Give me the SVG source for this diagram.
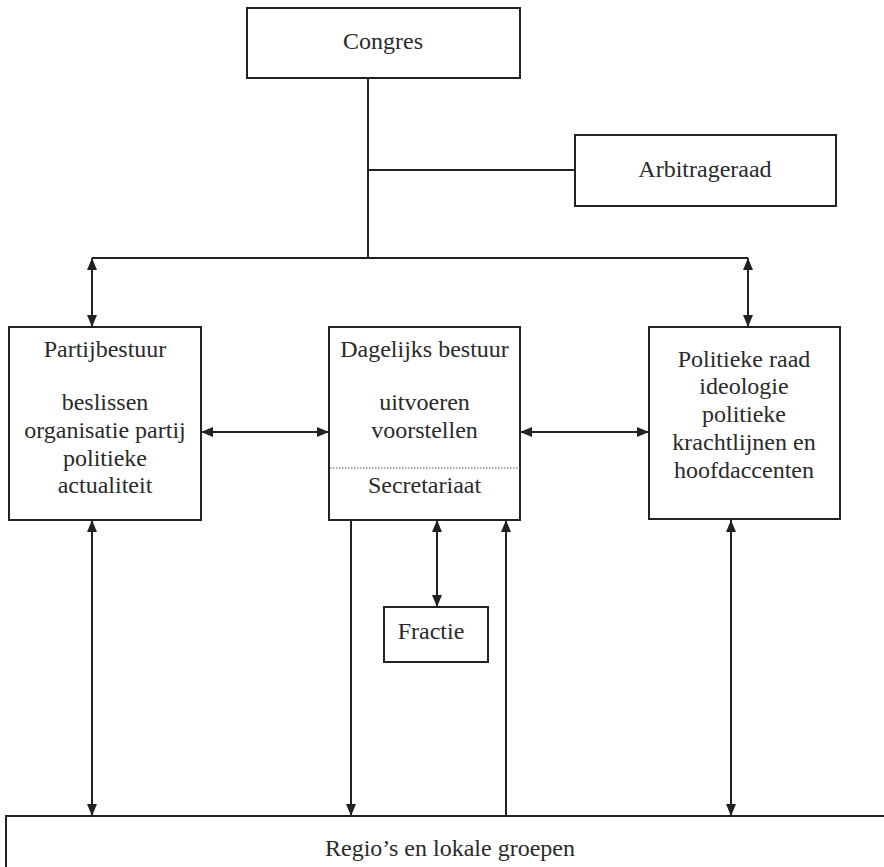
<svg xmlns="http://www.w3.org/2000/svg" width="884" height="867" viewBox="0 0 884 867" font-family="'Liberation Serif', 'DejaVu Serif', serif">
<style>
.box{fill:#fff;stroke:#222;stroke-width:2}
.ln{fill:none;stroke:#222;stroke-width:2}
text{font-size:24px;fill:#2a2a2a;text-anchor:middle}
.dot{stroke:#555;stroke-width:1;stroke-dasharray:1.5 1.5}
</style>
<defs>
<marker id="arr" viewBox="0 0 12 10" refX="12" refY="5" markerWidth="12" markerHeight="10" orient="auto-start-reverse" markerUnits="userSpaceOnUse">
<path d="M0,0 L12,5 L0,10 z" fill="#222"/>
</marker>
</defs>
<rect width="884" height="867" fill="#fff"/>
<g id="connectors">
<path class="ln" d="M368,78 V258"/>
<path class="ln" d="M368,170 H575"/>
<path class="ln" d="M92,258 H748"/>
<path class="ln" d="M92,258 V327" marker-start="url(#arr)" marker-end="url(#arr)"/>
<path class="ln" d="M748,258 V327" marker-start="url(#arr)" marker-end="url(#arr)"/>
<path class="ln" d="M201,432 H329" marker-start="url(#arr)" marker-end="url(#arr)"/>
<path class="ln" d="M520,432 H649" marker-start="url(#arr)" marker-end="url(#arr)"/>
<path class="ln" d="M92,520 V816" marker-start="url(#arr)" marker-end="url(#arr)"/>
<path class="ln" d="M351,520 V816" marker-end="url(#arr)"/>
<path class="ln" d="M437,520 V607" marker-start="url(#arr)" marker-end="url(#arr)"/>
<path class="ln" d="M506,816 V520" marker-end="url(#arr)"/>
<path class="ln" d="M731,520 V816" marker-start="url(#arr)" marker-end="url(#arr)"/>
</g>
<g id="congres">
<rect class="box" x="247" y="8" width="273" height="70"/>
<text x="383" y="49">Congres</text>
</g>
<g id="arbitrageraad">
<rect class="box" x="575" y="135" width="261" height="71"/>
<text x="705" y="177">Arbitrageraad</text>
</g>
<g id="partijbestuur">
<rect class="box" x="9" y="327" width="192" height="193"/>
<text x="105" y="357">Partijbestuur</text>
<text x="105" y="410">beslissen</text>
<text x="105" y="438">organisatie partij</text>
<text x="105" y="466">politieke</text>
<text x="105" y="493">actualiteit</text>
</g>
<g id="dagelijks-bestuur">
<rect class="box" x="329" y="327" width="191" height="193"/>
<text x="424.5" y="357">Dagelijks bestuur</text>
<text x="424.5" y="410">uitvoeren</text>
<text x="424.5" y="438">voorstellen</text>
<line class="dot" x1="330" y1="468" x2="522" y2="468"/>
<text x="424.5" y="493">Secretariaat</text>
</g>
<g id="politieke-raad">
<rect class="box" x="649" y="327" width="191" height="192"/>
<text x="744" y="367">Politieke raad</text>
<text x="744" y="394">ideologie</text>
<text x="744" y="422">politieke</text>
<text x="744" y="450">krachtlijnen en</text>
<text x="744" y="478">hoofdaccenten</text>
</g>
<g id="fractie">
<rect class="box" x="384" y="607" width="104" height="55"/>
<text x="431" y="639">Fractie</text>
</g>
<g id="regios">
<rect class="box" x="6" y="816" width="900" height="100"/>
<text x="450" y="856">Regio’s en lokale groepen</text>
</g>
</svg>
